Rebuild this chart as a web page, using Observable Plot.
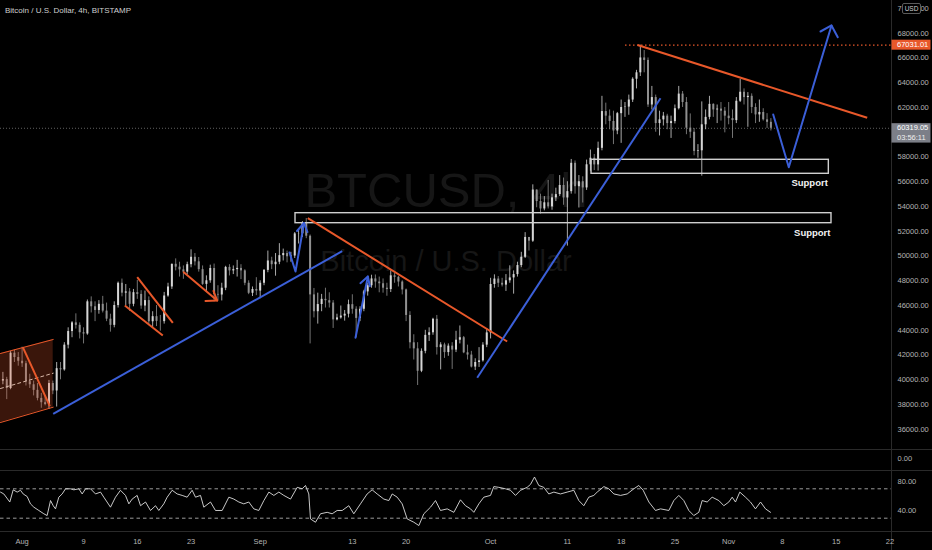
<!DOCTYPE html>
<html>
<head>
<meta charset="utf-8">
<script src="https://cdn.jsdelivr.net/npm/d3@7"></script>
<script src="https://cdn.jsdelivr.net/npm/@observablehq/plot@0.6"></script>
<style>
  html, body { margin:0; padding:0; background:#000; }
  #chart { position:relative; width:932px; height:550px; background:#000; overflow:hidden;
           font-family:"Liberation Sans", Arial, sans-serif; }
  #chart svg { position:absolute; left:0; }
  .sep { position:absolute; background:#2a2a2a; }
  #title { position:absolute; left:5px; top:6px; font-size:8px; line-height:10px; color:#cfcfcf; white-space:nowrap; }
  #usd { position:absolute; left:902px; top:3px; width:17px; height:9px; border:1px solid #5a5a5a; border-radius:2px;
         background:#000; color:#cfcfcf; font-size:6.5px; line-height:9px; text-align:center; }
</style>
</head>
<body>
<div id="chart"></div>
<script>
// ---------------- data ----------------
const symbolTitle = "Bitcoin / U.S. Dollar, 4h, BITSTAMP";
const watermarkLines = ["BTCUSD, 4h", "Bitcoin / U.S. Dollar"];
const currencyLabel = "USD";
// price-scale labels that are visible (60000 is covered by the last-price tag)
const priceTicks = [36000, 38000, 40000, 42000, 44000, 46000, 48000, 50000, 52000, 54000, 56000, 58000, 62000, 64000, 66000, 68000, 70000];
const paneTicks = [0];
const rsiTicks = [40, 80];
const rsiBands = [70, 30];
const timeTicks = ["2021-08-01", "2021-08-09", "2021-08-16", "2021-08-23", "2021-09-01", "2021-09-13", "2021-09-20",
                   "2021-10-01", "2021-10-11", "2021-10-18", "2021-10-25", "2021-11-01", "2021-11-08", "2021-11-15", "2021-11-22"];
const timeTickLabels = ["Aug", "9", "16", "23", "Sep", "13", "20", "Oct", "11", "18", "25", "Nov", "8", "15", "22"];
const viewStart = "2021-07-29T04:30:00Z";
const viewEnd = "2021-11-22T04:52:00Z";
const priceView = [34371, 70641];
const rsiView = [11.9, 93.54];
const paneView = [-1.364, 1];

// 12h candles starting 2021-07-29 00:00 UTC (two per day)
const candleStart = "2021-07-29T00:00:00Z";
const firstOpen = 39990;
const candleHigh = [
  40300, 40600, 40200, 42300, 42400, 42200,                 // Jul 29-31
  42640, 41500, 40450, 39900, 39700, 38900, 38700, 39950,   // Aug 1-4
  39900, 41400, 41400, 43000, 44200, 44700, 45330, 44600,   // Aug 5-8
  44200, 46450, 46700, 46300, 46400, 46740, 46200, 45300,   // Aug 9-12
  46300, 47900, 48140, 47700, 47370, 47300, 48030, 47200,   // Aug 13-16
  47170, 46700, 45500, 46000, 45200, 47060, 47800, 49350,   // Aug 17-20
  49770, 49500, 49200, 49500, 50500, 50200, 49880, 49200,   // Aug 21-24
  48400, 49260, 49350, 47600, 47800, 49170, 49300, 49200,   // Aug 25-28
  49650, 49300, 48890, 48000, 47500, 48250,                 // Aug 29-31
  48000, 48910, 50400, 49900, 50200, 51000, 50560, 50400,   // Sep 1-4
  50300, 51900, 52200, 52780, 53030, 51700, 47380, 47000,   // Sep 5-8
  46900, 47400, 47030, 46400, 45300, 45960, 45600, 46440,   // Sep 9-12
  46870, 45900, 45900, 47230, 47800, 48450, 48470, 48300,   // Sep 13-16
  48150, 47800, 48810, 48600, 48360, 48000, 47330, 45500,   // Sep 17-20
  43640, 43000, 42500, 44000, 44200, 44970, 45200, 43000,   // Sep 21-24
  42960, 42900, 43000, 43920, 44350, 43500, 42800, 42300,   // Sep 25-28
  41700, 42600, 43000, 44120,                               // Sep 29-30
  48200, 48480, 48340, 48200, 48500, 49210, 48800, 49500,   // Oct 1-4
  50300, 51890, 51500, 55750, 55340, 55000, 54800, 56100,   // Oct 5-8
  55000, 55480, 56500, 56300, 56000, 57800, 57680, 56500,   // Oct 9-12
  56400, 57750, 58560, 58200, 59200, 62900, 62350, 61800,   // Oct 13-16
  61700, 61600, 62600, 62400, 63000, 64400, 65000, 67031.01,// Oct 17-20
  66600, 66000, 63700, 63000, 61700, 61600, 61450, 61300,   // Oct 21-24
  62200, 63700, 63290, 62800, 61480, 60300, 59000, 62450,   // Oct 25-28
  61800, 62900, 62300, 62200, 62400, 62000,                 // Oct 29-31
  62400, 61800, 62800, 64270, 63500, 63200, 63100, 62300,   // Nov 1-4
  62600, 61900, 61500, 61100                                // Nov 5-6
];
const candleLow = [
  39300, 39600, 38400, 39200, 41400, 41100,
  41000, 39500, 39300, 38700, 38300, 37700, 37900, 37600,
  38800, 37800, 40000, 40700, 42500, 43400, 44100, 43300,
  42900, 43600, 45400, 44700, 45300, 45400, 44700, 43850,
  44200, 45800, 46700, 45980, 45520, 45900, 46500, 45700,
  45500, 44380, 44220, 44300, 43930, 44500, 46670, 47300,
  48800, 48300, 48120, 48500, 49050, 49200, 48700, 47630,
  47140, 47800, 46300, 46370, 46370, 47200, 48390, 48500,
  48300, 48100, 47600, 46880, 46730, 46800,
  46550, 47600, 48650, 48900, 48370, 49300, 49600, 49450,
  49500, 49800, 50970, 51500, 51400, 42900, 45000, 44500,
  45500, 45800, 45800, 44150, 44760, 44900, 44740, 45000,
  45300, 43400, 44700, 45500, 46760, 47400, 47400, 47030,
  47000, 46750, 47050, 47800, 47500, 46860, 44700, 42500,
  41600, 39540, 40580, 42100, 43100, 43600, 42000, 40800,
  41730, 41900, 40840, 42200, 42900, 42110, 41600, 40960,
  40750, 41000, 41430, 42600,
  43300, 47400, 47450, 47500, 47140, 47800, 46920, 48300,
  49060, 49800, 50400, 51100, 53900, 53380, 53650, 53800,
  53700, 54400, 54800, 54100, 50800, 55000, 55000, 53880,
  54280, 55300, 56850, 56900, 56860, 58500, 60600, 60200,
  59000, 59800, 59100, 61200, 61370, 62400, 63500, 64500,
  64800, 62000, 61800, 60000, 59700, 60500, 60200, 59500,
  60670, 61800, 62000, 59800, 59500, 58100, 57900, 56450,
  60200, 61000, 61200, 60700, 60900, 59950,
  60600, 59500, 60700, 62400, 62200, 60400, 61500, 60700,
  60800, 60900, 60300, 60100
];
const candleClose = [
  39900, 40020, 39300, 42150, 41800, 41500,
  41300, 39850, 39600, 39150, 38500, 38150, 38000, 39700,
  39100, 40900, 40800, 42800, 43900, 44600, 44400, 43800,
  43700, 46300, 45900, 45600, 46100, 45550, 44900, 44400,
  46000, 47800, 47000, 47100, 46100, 47040, 46900, 45960,
  46400, 44690, 45100, 44720, 44700, 46770, 47500, 49330,
  49100, 48880, 48700, 49300, 49900, 49530, 48900, 47710,
  48000, 48990, 46900, 46850, 47400, 49080, 48800, 48900,
  49000, 48800, 47800, 46990, 47300, 47170,
  47800, 48840, 49600, 49300, 49500, 50030, 50200, 49940,
  50000, 51790, 51800, 52700, 51600, 46860, 45500, 46080,
  46500, 46390, 46200, 44840, 45000, 45150, 45300, 46070,
  45700, 44960, 45700, 47100, 47600, 48150, 47900, 47760,
  47400, 47290, 48400, 48280, 47900, 47260, 45200, 42990,
  42500, 40690, 42300, 43590, 43800, 44890, 42600, 42820,
  42200, 42720, 42400, 43200, 43400, 42180, 42000, 41030,
  41400, 41530, 42800, 43790,
  47700, 48140, 47800, 47650, 48000, 48230, 48500, 49230,
  49900, 51500, 51200, 55330, 54400, 53800, 54300, 53970,
  54700, 54960, 55700, 54690, 55200, 57490, 55600, 56000,
  55500, 57370, 57900, 57360, 58700, 61670, 61300, 60870,
  60100, 61500, 62000, 62030, 62600, 64280, 64800, 66000,
  65800, 62200, 62800, 60700, 61000, 61300, 60700, 60860,
  61900, 63080, 62400, 60330, 60000, 58450, 58500, 60600,
  61200, 62250, 61800, 61870, 61700, 61300,
  61100, 60940, 62500, 63230, 62800, 62900, 62000, 61400,
  61600, 61000, 60800, 60319.05
];
const countdownText = "03:56:11";
const athPrice = 67031.01;
const athLine = [["2021-10-18T13:40:00Z", "2021-11-22T04:52:00Z", 67031.01]];

// RSI (14): days after 2021-08-01 00:00 UTC, value
const rsiStart = "2021-08-01T00:00:00Z";
const rsiDays = [
  -2.81, -2.38, -1.60, -1.16, -0.64, -0.21, 0.14, 0.66, 1.09, 1.53,
  2.18, 2.83, 3.26, 3.70, 4.05, 4.35, 4.78, 5.22, 5.65, 6.30,
  6.74, 7.39, 7.82, 8.26, 8.91, 9.56, 10.21, 10.64, 11.51, 12.16,
  12.81, 13.46, 13.90, 14.33, 14.98, 15.42, 16.07, 16.72, 17.37, 17.80,
  18.45, 18.89, 19.54, 20.19, 20.84, 21.49, 22.14, 22.58, 23.23, 23.66,
  24.53, 25.18, 26.05, 26.92, 27.57, 28.22, 28.87, 29.52, 30.17, 30.82,
  31.48, 32.13, 32.78, 33.43, 34.08, 34.95, 35.82, 36.47, 36.90, 37.33,
  37.55, 38.20, 38.85, 39.72, 40.37, 41.02, 41.68, 42.54, 43.19, 44.06,
  44.93, 45.58, 46.23, 47.10, 47.75, 48.19, 48.84, 49.49, 50.14, 51.01,
  51.66, 52.31, 53.18, 53.83, 54.48, 55.35, 56.22, 57.08, 57.73, 58.39,
  58.82, 59.47, 60.12, 60.99, 61.42, 62.07, 62.94, 63.59, 64.24, 64.90,
  65.76, 66.20, 66.72, 67.28, 67.93, 68.58, 69.24, 70.10, 70.97, 71.84,
  72.49, 73.14, 73.79, 74.44, 74.88, 75.75, 76.40, 77.05, 77.92, 78.79,
  79.65, 80.30, 80.87, 81.61, 82.47, 83.13, 84.21, 84.86, 85.51, 86.16,
  86.81, 87.46, 88.11, 88.55, 89.20, 89.85, 90.72, 91.37, 92.02, 92.46,
  92.89, 93.45, 94.19, 94.84, 95.49, 96.15, 96.80, 97.45
];
const rsiValues = [
  65.5, 63, 52, 68.6, 65.5, 68, 63, 59.5, 49.5, 45,
  40.5, 36, 33.6, 54, 47, 42.7, 58.6, 63, 70, 70,
  68.6, 70, 63, 70, 70, 63, 65.5, 58.6, 45, 58.6,
  68, 61, 49.5, 56, 61, 47, 52, 40.5, 47, 40.5,
  49.5, 58.6, 68, 63, 61, 58.6, 68, 58.6, 61, 45,
  52, 40.5, 40.5, 58.6, 56, 52, 49.5, 52, 42.7, 40.5,
  54, 65.5, 61, 65.5, 61, 56, 72, 70, 74.5, 63,
  29, 24.5, 36, 38, 36, 40.5, 40.5, 47, 36, 49.5,
  63, 68.6, 63, 56, 54, 63, 58.6, 49.5, 29, 24.5,
  20, 36, 45, 54, 40.5, 42.7, 38, 55, 47, 42.7,
  38, 49.5, 58.6, 61, 73, 72, 70, 68, 61, 68,
  72, 76, 86, 74.5, 72, 63, 65.5, 63, 65.5, 68,
  54, 47, 58.6, 61, 65.5, 73, 70, 63, 61, 63,
  70, 74.5, 68, 52, 40.5, 42.7, 40.5, 54, 61, 54,
  40.5, 33.6, 38, 54, 52, 58.6, 54, 47, 52, 58.6,
  52, 65.5, 58.6, 52, 42.7, 52, 42.7, 38
];

// Drawings (time, price)
const channelTop    = [["2021-07-29T04:30:00Z", 42126], ["2021-08-05T01:12:00Z", 43257]];
const channelMid    = [["2021-07-29T04:30:00Z", 39299], ["2021-08-05T01:12:00Z", 40535]];
const channelBottom = [["2021-07-29T04:30:00Z", 36552], ["2021-08-05T01:12:00Z", 37788]];
const blueTrendLines = [
  ["2021-08-05T01:12:00Z", 37255, "2021-09-11T16:20:00Z", 50390],
  ["2021-09-29T06:15:00Z", 40163, "2021-10-23T03:00:00Z", 62749]
];
const orangeTrendLines = [
  ["2021-08-01T02:10:00Z", 42635, "2021-08-04T14:36:00Z", 37869],
  ["2021-08-14T08:53:00Z", 46004, "2021-08-19T07:40:00Z", 43580],
  ["2021-08-15T23:45:00Z", 48290, "2021-08-20T15:00:00Z", 44606],
  ["2021-09-07T04:48:00Z", 53056, "2021-10-03T03:50:00Z", 43095],
  ["2021-10-20T03:07:00Z", 67047, "2021-11-19T00:55:00Z", 61166]
];
const bluePaths = [
  ["sepV", "2021-09-04T19:40:00Z", 50285], ["sepV", "2021-09-05T14:24:00Z", 48750], ["sepV", "2021-09-06T16:57:00Z", 52668],
  ["sepVHead", "2021-09-05T19:00:00Z", 52022], ["sepVHead", "2021-09-06T16:57:00Z", 52668], ["sepVHead", "2021-09-07T03:50:00Z", 51941],
  ["sep14", "2021-09-13T09:50:00Z", 43394], ["sep14", "2021-09-15T00:30:00Z", 48346],
  ["sep14Head", "2021-09-14T01:12:00Z", 47805], ["sep14Head", "2021-09-15T00:30:00Z", 48346], ["sep14Head", "2021-09-15T06:40:00Z", 47555],
  ["nov", "2021-11-06T19:12:00Z", 61433], ["nov", "2021-11-08T19:55:00Z", 57175], ["nov", "2021-11-14T09:22:00Z", 68622],
  ["novHead", "2021-11-12T23:00:00Z", 68137], ["novHead", "2021-11-14T09:22:00Z", 68622], ["novHead", "2021-11-15T05:00:00Z", 67677]
];
const orangePaths = [
  ["aug", "2021-08-22T01:12:00Z", 48694], ["aug", "2021-08-26T09:36:00Z", 46408],
  ["augHead", "2021-08-24T21:07:00Z", 46367], ["augHead", "2021-08-26T09:36:00Z", 46408], ["augHead", "2021-08-25T22:05:00Z", 47175]
];
const supportZones = [
  ["2021-10-14T03:25:00Z", "2021-11-14T01:00:00Z", 56642, 57773],
  ["2021-09-05T14:24:00Z", "2021-11-14T09:20:00Z", 52652, 53460]
];
const supportLabels = ["Support", "Support"];

// ---------------- build ----------------
const T = s => new Date(s);
const ORANGE = "#e8582a", BLUE = "#3b5fd8", AXIS = "#b4b4b4", UP = "#d6d6d6", DOWN = "#909090";
const FONT = '"Liberation Sans", Arial, sans-serif';
const xDomain = [T(viewStart), T(viewEnd)];

const candles = candleClose.map((c, i) => ({
  t: d3.utcHour.offset(T(candleStart), 12 * i),
  open: i ? candleClose[i - 1] : firstOpen,
  high: candleHigh[i], low: candleLow[i], close: c
}));
const upC = candles.filter(d => d.close >= d.open);
const downC = candles.filter(d => d.close < d.open);
const lastPrice = candleClose[candleClose.length - 1];

const seg = arr => arr.map(([t1, p1, t2, p2]) => ({t1: T(t1), p1, t2: T(t2), p2}));
const pts = arr => arr.map(([id, t, p]) => ({id, t: T(t), p}));
const pl = arr => arr.map(([t, p]) => ({t: T(t), p}));
const channelRows = channelTop.map((d, i) => ({t: T(d[0]), hi: d[1], lo: channelBottom[i][1]}));
const zones = supportZones.map(([a, b, lo, hi], i) => ({t1: T(a), t2: T(b), lo, hi, label: supportLabels[i]}));
const athRows = athLine.map(([a, b, p]) => ({t1: T(a), t2: T(b), p}));
const rsiRows = rsiDays.map((d, i) => ({t: new Date(T(rsiStart).getTime() + d * 864e5), v: rsiValues[i]}));
const labelMap = new Map(timeTicks.map((s, i) => [+T(s + "T00:00:00Z"), timeTickLabels[i]]));
const tickDates = timeTicks.map(s => T(s + "T00:00:00Z"));

const style = {background: "transparent", color: AXIS, fontFamily: FONT, fontSize: "7.5px", overflow: "visible"};

const main = Plot.plot({
  width: 932, height: 449,
  marginTop: 0, marginBottom: 0, marginLeft: 0, marginRight: 41,
  style,
  x: {type: "utc", domain: xDomain, axis: null, label: null},
  y: {type: "linear", domain: priceView, axis: null, label: null},
  marks: [
    Plot.text([watermarkLines[0]], {frameAnchor: "middle", dy: -34, fontSize: 49, fill: "#161616", fontFamily: FONT}),
    Plot.text([watermarkLines[1]], {frameAnchor: "middle", dy: 36.5, fontSize: 29, fill: "#161616", fontFamily: FONT}),
    Plot.ruleY([lastPrice], {stroke: "#7a7a7a", strokeWidth: 0.8, strokeDasharray: "1,2"}),
    Plot.ruleX(downC, {x: "t", y1: "low", y2: "high", stroke: DOWN, strokeWidth: 0.8}),
    Plot.ruleX(upC, {x: "t", y1: "low", y2: "high", stroke: UP, strokeWidth: 0.8}),
    Plot.ruleX(downC, {x: "t", y1: "open", y2: "close", stroke: DOWN, strokeWidth: 2}),
    Plot.ruleX(upC, {x: "t", y1: "open", y2: "close", stroke: UP, strokeWidth: 2}),
    Plot.areaY(channelRows, {x: "t", y1: "lo", y2: "hi", fill: ORANGE, fillOpacity: 0.25, clip: true}),
    Plot.line(pl(channelTop), {x: "t", y: "p", stroke: ORANGE, strokeWidth: 1, clip: true}),
    Plot.line(pl(channelBottom), {x: "t", y: "p", stroke: ORANGE, strokeWidth: 1, clip: true}),
    Plot.line(pl(channelMid), {x: "t", y: "p", stroke: "#d8b8a8", strokeWidth: 1, strokeDasharray: "3,3", clip: true}),
    Plot.rect(zones, {x1: "t1", x2: "t2", y1: "lo", y2: "hi", fill: "none", stroke: "#cfcfcf", strokeWidth: 1.4}),
    Plot.text(zones, {x: "t2", y: "lo", text: "label", textAnchor: "end", dx: -1, dy: 9.5, fill: "#f2f2f2",
                      fontWeight: "bold", fontSize: 9.5, fontFamily: FONT}),
    Plot.ruleY(athRows, {y: "p", x1: "t1", x2: "t2", stroke: ORANGE, strokeWidth: 1.3, strokeDasharray: "1.5,2.5"}),
    Plot.link(seg(orangeTrendLines), {x1: "t1", y1: "p1", x2: "t2", y2: "p2", stroke: ORANGE, strokeWidth: 2}),
    Plot.link(seg(blueTrendLines), {x1: "t1", y1: "p1", x2: "t2", y2: "p2", stroke: BLUE, strokeWidth: 2}),
    Plot.line(pts(orangePaths), {x: "t", y: "p", z: "id", stroke: ORANGE, strokeWidth: 2, strokeLinecap: "round", strokeLinejoin: "round"}),
    Plot.line(pts(bluePaths), {x: "t", y: "p", z: "id", stroke: BLUE, strokeWidth: 2, strokeLinecap: "round", strokeLinejoin: "round"}),
    Plot.axisY(priceTicks, {anchor: "right", tickSize: 0, tickPadding: 6, tickFormat: d => d.toFixed(2)})
  ]
});

const paneB = Plot.plot({
  width: 932, height: 22,
  marginTop: 0, marginBottom: 0, marginLeft: 0, marginRight: 41,
  style,
  y: {domain: paneView, axis: null, label: null},
  marks: [Plot.axisY(paneTicks, {anchor: "right", tickSize: 0, tickPadding: 6, tickFormat: d => d.toFixed(2)})]
});

const rsi = Plot.plot({
  width: 932, height: 79,
  marginTop: 0, marginBottom: 19, marginLeft: 0, marginRight: 41,
  style,
  x: {type: "utc", domain: xDomain, axis: null, label: null},
  y: {domain: rsiView, axis: null, label: null},
  marks: [
    Plot.ruleY(rsiBands, {stroke: "#9a9a9a", strokeWidth: 1, strokeDasharray: "3.5,3"}),
    Plot.line(rsiRows, {x: "t", y: "v", stroke: "#dedede", strokeWidth: 0.9}),
    Plot.axisY(rsiTicks, {anchor: "right", tickSize: 0, tickPadding: 6, tickFormat: d => d.toFixed(2)}),
    Plot.axisX(tickDates, {anchor: "bottom", tickSize: 0, tickPadding: 7, tickFormat: d => labelMap.get(+d)})
  ]
});

const chart = document.getElementById("chart");
[[main, 0], [paneB, 449], [rsi, 471]].forEach(([el, top]) => { el.style.top = top + "px"; chart.appendChild(el); });

// pane separators (drawn under the price tags)
[["left:891px;top:0;width:1px;height:550px"], ["left:0;top:449px;width:932px;height:1px"],
 ["left:0;top:470px;width:932px;height:1px"], ["left:0;top:531px;width:932px;height:1px"]]
  .forEach(([css]) => { const d = document.createElement("div"); d.className = "sep"; d.style.cssText = css; chart.insertBefore(d, main); });

// price-scale tags placed through the main plot's y scale
const ys = main.scale("y");
const svg = d3.select(main);
const yAth = ys.apply(athPrice), yLast = ys.apply(lastPrice);
const tag = svg.append("g").attr("text-anchor", "start").attr("font-size", 7.5).attr("font-family", FONT);
tag.append("rect").attr("x", 891.5).attr("y", yAth - 5).attr("width", 39).attr("height", 10).attr("fill", ORANGE);
tag.append("text").attr("x", 897).attr("y", yAth).attr("dy", "0.35em").attr("fill", "#fff").text(athPrice.toFixed(2));
tag.append("rect").attr("x", 891.5).attr("y", yLast - 4.6).attr("width", 39).attr("height", 19.4).attr("fill", "#7c7f88");
tag.append("text").attr("x", 897).attr("y", yLast).attr("dy", "0.35em").attr("fill", "#fff").text(lastPrice.toFixed(2));
tag.append("text").attr("x", 897).attr("y", yLast + 9.2).attr("dy", "0.35em").attr("fill", "#eee").text(countdownText);

const title = document.createElement("div"); title.id = "title"; title.textContent = symbolTitle; chart.appendChild(title);
const usd = document.createElement("div"); usd.id = "usd"; usd.textContent = currencyLabel; chart.appendChild(usd);
</script>
</body>
</html>
